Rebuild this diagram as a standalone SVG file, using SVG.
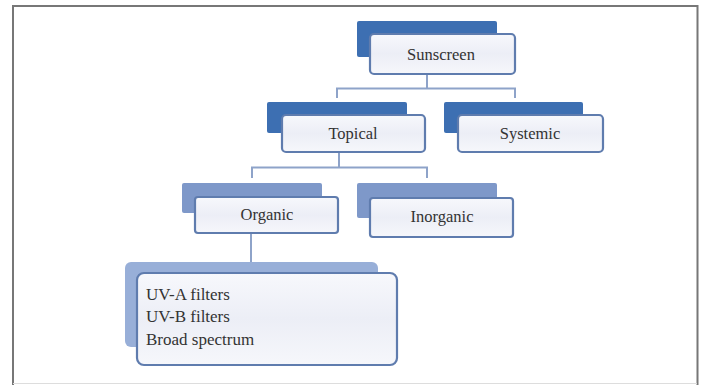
<svg xmlns="http://www.w3.org/2000/svg" width="701" height="385" viewBox="0 0 701 385">
<defs>
<linearGradient id="fg" x1="0" y1="0" x2="0" y2="1">
<stop offset="0" stop-color="#f7f8fc"/>
<stop offset="0.5" stop-color="#eceef6"/>
<stop offset="1" stop-color="#f6f7fb"/>
</linearGradient>
<style>
.front{fill:url(#fg);stroke:#5f7cae;stroke-width:2.2}
.b1{fill:#3d6fb2}
.b2{fill:#7e98c9}
.b3{fill:#98afd8}
.lbl{font-family:"Liberation Serif",serif;font-size:16.5px;fill:#333;text-anchor:middle}
.lst{font-family:"Liberation Serif",serif;font-size:17px;fill:#333}
.con{fill:none;stroke:#8ea3c9;stroke-width:2}
</style>
</defs>
<rect x="0" y="0" width="701" height="385" fill="#fff"/>
<path d="M13 385 V6 H697.5 V385" fill="none" stroke="#777" stroke-width="2"/>
<line x1="13" y1="383.5" x2="697" y2="383.5" stroke="#ddd" stroke-width="1"/>
<g id="connectors">
<path class="con" d="M427 75 V88.5 M337 98 V88.5 H515 V98"/>
<path class="con" d="M339 152 V167.5 M252 178 V167.5 H427 V178"/>
<path class="con" d="M251 233 V262"/>
</g>
<g id="sunscreen">
<rect class="b1" x="357" y="21" width="140" height="36" rx="2"/>
<rect class="front" x="370" y="34" width="145" height="40" rx="4"/>
<text class="lbl" x="441" y="60">Sunscreen</text>
</g>
<g id="topical">
<rect class="b1" x="267" y="102" width="140" height="31" rx="2"/>
<rect class="front" x="282" y="115" width="143" height="37" rx="4"/>
<text class="lbl" x="353" y="139">Topical</text>
</g>
<g id="systemic">
<rect class="b1" x="444" y="102" width="139" height="31" rx="2"/>
<rect class="front" x="458" y="115" width="145" height="37" rx="4"/>
<text class="lbl" x="530" y="139">Systemic</text>
</g>
<g id="organic">
<rect class="b2" x="182" y="183" width="140" height="30" rx="2"/>
<rect class="front" x="195" y="197" width="143" height="36" rx="3"/>
<text class="lbl" x="267" y="220">Organic</text>
</g>
<g id="inorganic">
<rect class="b2" x="357" y="183" width="140" height="35" rx="2"/>
<rect class="front" x="370" y="198" width="143" height="39" rx="3"/>
<text class="lbl" x="442" y="222">Inorganic</text>
</g>
<g id="types">
<rect class="b3" x="125" y="262" width="253" height="85" rx="6"/>
<rect class="front" x="137" y="273" width="260" height="92" rx="7"/>
<text class="lst" x="146" y="300">UV-A filters</text>
<text class="lst" x="146" y="322">UV-B filters</text>
<text class="lst" x="146" y="345">Broad spectrum</text>
</g>
</svg>
